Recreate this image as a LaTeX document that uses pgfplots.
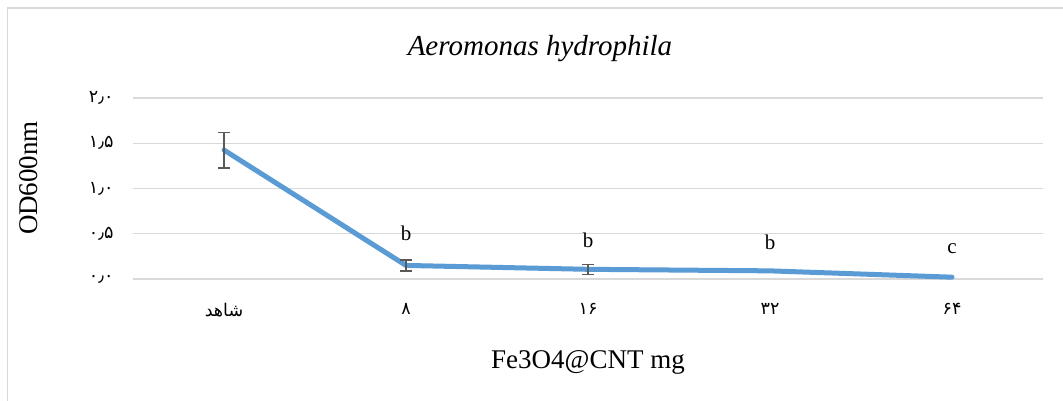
\documentclass[border=0pt]{standalone}
\usepackage{fontspec}
\setmainfont{Liberation Serif}
\newfontfamily\fa[Script=Arabic]{DejaVu Sans}
\TeXXeTstate=1
\usepackage{pgfplots}
\pgfplotsset{compat=1.18}
\definecolor{gridc}{HTML}{D9D9D9}
\definecolor{linec}{HTML}{5B9BD5}
\definecolor{errc}{HTML}{595959}
\begin{document}
\begin{tikzpicture}
\useasboundingbox (0,0) rectangle (1063pt,-401pt);
\fill[white] (0,0) rectangle (1063pt,-401pt);
\draw[gridc, line width=1.5pt] (7.5pt,-401pt) -- (7.5pt,-8pt) -- (1063pt,-8pt);
\begin{axis}[
  scale only axis, width=910pt, height=181pt,
  at={(133pt,-279pt)}, anchor=south west,
  xmin=-0.5, xmax=4.5, ymin=0, ymax=2,
  axis x line*=bottom, axis y line*=left,
  x axis line style={gridc, line width=1.5pt},
  y axis line style={draw=none},
  ytick={0,0.5,1,1.5,2},
  yticklabels={{\fa ۰٫۰},{\fa ۰٫۵},{\fa ۱٫۰},{\fa ۱٫۵},{\fa ۲٫۰}},
  ytick style={draw=none},
  yticklabel style={font=\fontsize{17.5}{20}\selectfont, xshift=-16pt},
  xtick={0,1,2,3,4},
  xticklabels={{\fa\beginR شاهد\endR},{\fa ۸},{\fa ۱۶},{\fa ۳۲},{\fa ۶۴}},
  xticklabel style={font=\fontsize{17.5}{20}\selectfont, yshift=-21pt},
  major x tick style={draw=none},
  extra x ticks={-0.5,0.5,1.5,2.5,3.5,4.5},
  extra x tick labels={},
  extra x tick style={tick align=outside, major tick length=7pt, tick style={gridc, line width=1.5pt}, grid=none},
  ymajorgrids, grid style={gridc, line width=1.3pt},
  clip=false,
]
\addplot[color=linec, line width=5pt, line join=round, line cap=round]
  table[x=x, y=y] {
  x y
  0 1.425
  1 0.15
  2 0.107
  3 0.09
  4 0.02
  };
\addplot[draw=none, mark=none, forget plot,
  error bars/.cd, y dir=both, y explicit,
  error bar style={color=errc, line width=1.3pt, line cap=butt},
  error mark options={rotate=90, mark size=6pt, line width=1.3pt, color=errc}]
  table[x=x, y=y, y error=e] {
  x y e
  0 1.425 0.197
  1 0.15 0.06
  2 0.107 0.055
  };
\node[font=\fontsize{21}{25}\selectfont] at (axis cs:1,0.51) {b};
\node[font=\fontsize{21}{25}\selectfont] at (axis cs:2,0.43) {b};
\node[font=\fontsize{21}{25}\selectfont] at (axis cs:3,0.41) {b};
\node[font=\fontsize{21}{25}\selectfont] at (axis cs:4,0.34) {c};
\end{axis}
\node[anchor=base, font=\fontsize{29}{34}\selectfont\itshape] at (540pt,-56pt) {Aeromonas hydrophila};
\node[anchor=base, rotate=90, font=\fontsize{27}{32}\selectfont] at (37pt,-178pt) {OD600nm};
\node[anchor=base, font=\fontsize{27}{32}\selectfont] at (588pt,-368pt) {Fe3O4@CNT mg};
\end{tikzpicture}
\end{document}
